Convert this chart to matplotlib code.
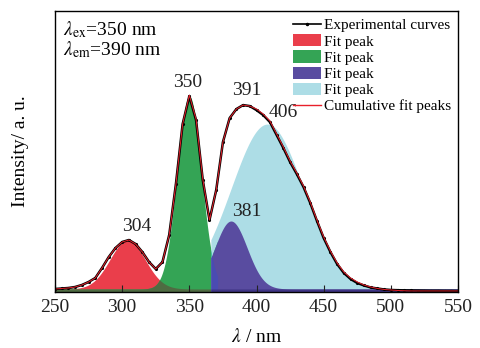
import numpy as np
import matplotlib.pyplot as plt
from matplotlib.patches import Patch
from matplotlib.lines import Line2D

plt.rcParams['font.family'] = 'Liberation Serif'
plt.rcParams['mathtext.fontset'] = 'stix'

wavelength = np.arange(250, 551, 5)
experimental = [3, 3.5, 4, 5, 7, 10, 14, 24, 35, 44,
                50, 52, 48, 40, 30, 23, 30, 57, 108, 168,
                196, 172, 112, 72, 102, 150, 174, 183, 187, 186,
                182, 177, 170, 157, 144, 130, 118, 105, 89, 71,
                54, 40, 28, 19, 13, 9, 6.5, 4.5, 3.5, 2.5,
                2, 1.8, 1.6, 1.5, 1.4, 1.3, 1.2, 1.2, 1.1, 1.1, 1]
cumulative_fit = [3, 3.5, 4, 5, 7, 10, 14, 24, 35, 44,
                  50, 52, 48, 40, 30, 23, 30, 57, 108, 168,
                  197, 173, 113, 72, 102, 150, 174, 183, 187, 186,
                  183, 178, 171, 158, 145, 131, 119, 106, 90, 72,
                  55, 41, 29, 20, 14, 10, 7, 5, 3.5, 2.5,
                  2, 1.5, 1.2, 1, 1, 1, 1, 1, 1, 1, 1]

# fitted gaussian peaks: centre (nm), height, sigma (nm)
peak_centres = [304, 350, 381, 408]
peak_heights = [49, 193, 68, 165]
peak_sigmas = [13, 9, 12, 27]
peak_colors = ['#ea3e4b', '#34a455', '#594ca0', '#addde6']
baseline = 3

# labels written over the peaks
label_texts = ['304', '350', '381', '391', '406']
label_x = [311, 349, 393, 392.5, 420]
label_y = [66, 210, 81, 202, 180]

x = np.linspace(250, 550, 1201)
curves = [baseline + h * np.exp(-(x - c) ** 2 / (2 * s ** 2))
          for c, h, s in zip(peak_centres, peak_heights, peak_sigmas)]
red, green, purple, cyan = curves

left = x <= 367
left_g = x <= 371
right = x >= 366
join = (x >= 366) & (x <= 371)

fig = plt.figure(figsize=(4.8, 3.48), dpi=100)
ax = fig.add_axes([0.1146, 0.161, 0.8396, 0.807])

ax.fill_between(x[left], 0, red[left], color=peak_colors[0], lw=0)
ax.fill_between(x[left_g], 0, green[left_g], color=peak_colors[1], lw=0)
ax.fill_between(x[left], 0, np.minimum(red, green)[left], color='#4f6b42', lw=0)
ax.fill_between(x[right], 0, cyan[right], color=peak_colors[3], lw=0)
ax.fill_between(x[join], purple[join], np.minimum(green, cyan)[join], color='#2cb596', lw=0)
ax.fill_between(x[right], 0, purple[right], color=peak_colors[2], lw=0)
ax.fill_between(x[join], 0, np.minimum(green, purple)[join], color='#4a4cb2', lw=0)
ax.fill_between(x[right], 0, baseline, color='#3f3585', lw=0)

ax.plot(wavelength, experimental, color='black', lw=1.8, marker='.', ms=2.5)
ax.plot(wavelength, cumulative_fit, color='#e8202a', lw=0.7)

for t, tx, ty in zip(label_texts, label_x, label_y):
    ax.text(tx, ty, t, ha='center', va='center', fontsize=14, color='#222222')

ax.text(0.02, 0.90, '$\\lambda_{\\rm ex}$=350 nm\n$\\lambda_{\\rm em}$=390 nm',
        transform=ax.transAxes, fontsize=14, va='center', linespacing=0.95)

ax.set_xlim(250, 550)
ax.set_ylim(0, 281)
ax.set_xticks(np.arange(250, 551, 50))
ax.set_yticks([])
ax.tick_params(axis='x', direction='in', length=5, labelsize=14, pad=5, colors='#222222')
for sp in ax.spines.values():
    sp.set_linewidth(1.0)
ax.set_xlabel(r'$\lambda$ / nm', fontsize=14, labelpad=9)
ax.set_ylabel('Intensity/ a. u.', fontsize=14, labelpad=19)

handles = [Line2D([], [], color='black', lw=1.2, marker='.', ms=3)]
handles += [Patch(facecolor=c, edgecolor='none') for c in peak_colors]
handles += [Line2D([], [], color='#e8202a', lw=1.0)]
labels = ['Experimental curves'] + ['Fit peak'] * 4 + ['Cumulative fit peaks']
ax.legend(handles, labels, loc='upper right', frameon=False, fontsize=11,
          numpoints=1, handlelength=1.8, handleheight=0.85, handletextpad=0.2,
          labelspacing=0.12, borderpad=0.35, borderaxespad=0.1)

fig.savefig('out.png', dpi=100)
